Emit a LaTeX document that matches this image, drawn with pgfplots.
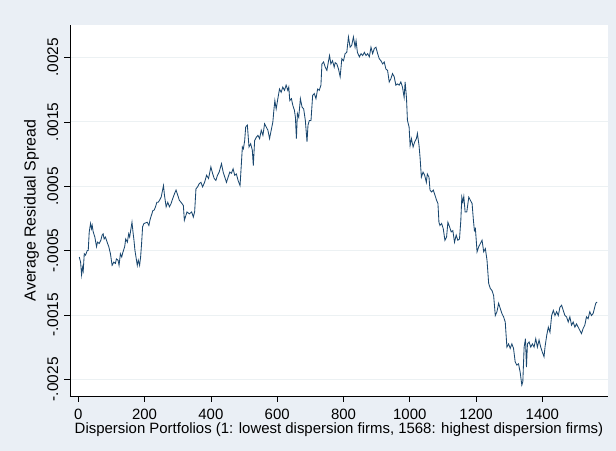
\documentclass[border=0pt]{standalone}
\usepackage{pgfplots}
\pgfplotsset{compat=1.18}
\usepackage{fontspec}
\setmainfont{Liberation Sans}
\definecolor{bgc}{RGB}{234,239,245}
\definecolor{gridc}{RGB}{236,241,243}
\definecolor{navy}{RGB}{26,71,111}
% y values in units of 1e-4
\pgfplotstableread{
x y
3 -6.0
7 -6.8
10 -8.8
13 -7.6
15 -8.1
18 -5.5
22 -5.7
27 -5.0
30 -5.0
33 -2.1
37 -0.8
40 -1.6
42 -1.1
45 -2.1
50 -2.9
55 -4.4
58 -3.7
63 -3.9
68 -3.4
72 -2.6
75 -2.4
78 -3.2
82 -2.9
87 -3.7
92 -4.4
97 -5.5
102 -7.3
107 -6.8
112 -7.0
115 -6.3
120 -6.5
123 -7.3
127 -5.5
131 -6.0
135 -5.2
140 -4.4
143 -3.2
148 -3.7
152 -2.4
155 -2.9
158 -1.9
162 -0.6
165 -2.1
168 -3.4
171 -5.0
175 -6.3
178 -7.3
181 -6.5
185 -7.3
188 -6.0
191 -3.9
194 -1.3
198 -0.8
203 -0.7
208 -0.6
213 -1.1
217 -0.1
222 0.7
225 1.2
229 1.3
233 1.8
237 2.5
241 2.5
245 2.8
250 3.3
257 5.1
260 3.6
265 1.8
270 2.5
275 1.8
280 2.3
283 2.8
290 3.8
295 4.4
300 3.6
305 2.8
310 2.5
317 2.0
320 -0.3
323 0.2
328 1.0
335 0.7
342 1.0
347 0.2
351 1.0
355 4.6
360 4.9
365 5.4
370 5.6
375 4.9
381 5.6
387 6.7
393 6.2
400 8.0
405 7.0
410 6.2
415 5.9
420 6.7
425 7.2
432 8.5
437 7.2
442 6.4
447 5.6
452 6.4
457 7.2
462 7.0
467 7.7
472 6.7
477 6.9
482 5.9
488 5.1
492 8.5
495 11.1
498 10.8
502 12.1
505 14.2
510 14.5
515 11.1
520 11.6
525 10.6
528 8.2
532 12.1
537 12.6
542 12.9
547 12.4
552 13.7
557 12.9
562 14.7
567 14.2
572 13.7
577 12.4
582 13.7
587 15.0
590 16.8
593 18.3
597 17.0
602 18.6
607 20.1
612 19.6
617 20.4
622 19.9
627 20.7
632 19.9
635 20.4
638 18.3
643 18.6
647 17.6
652 16.8
655 15.7
658 12.4
661 16.3
665 15.7
670 18.6
675 17.3
680 17.0
685 15.2
690 11.9
693 14.5
697 15.2
702 15.2
707 19.1
712 19.4
717 18.6
722 20.1
727 19.9
732 20.7
735 24.0
740 24.3
745 23.5
750 23.0
755 24.5
758 25.3
762 24.0
767 24.5
772 23.5
775 24.2
780 24.0
785 23.2
790 22.0
795 24.8
800 24.5
805 25.6
810 25.8
815 28.2
820 26.6
825 26.9
830 28.2
835 26.6
838 27.6
842 25.8
848 25.1
853 25.6
858 25.3
863 25.8
868 25.3
873 25.6
878 25.1
883 26.6
888 25.6
893 26.4
898 26.6
903 25.6
908 24.8
913 24.5
918 24.0
923 24.3
928 23.2
933 23.0
938 21.2
943 21.7
948 22.5
953 22.0
958 20.7
963 20.9
968 20.7
973 21.2
978 20.4
983 18.8
986 21.2
990 18.8
993 15.2
998 14.2
1001 11.3
1005 12.4
1010 11.1
1015 11.9
1020 12.4
1023 13.2
1028 11.3
1031 9.5
1035 6.4
1040 7.2
1045 6.7
1050 5.6
1053 6.9
1058 6.4
1061 4.4
1066 4.1
1071 4.4
1076 3.6
1081 2.8
1085 2.3
1088 -0.6
1091 -1.1
1096 -0.8
1101 -1.6
1106 -3.4
1111 -2.9
1115 -0.6
1120 -1.3
1125 -2.1
1130 -1.9
1135 -3.7
1140 -2.6
1145 -3.4
1150 -3.2
1154 -0.3
1157 3.3
1160 2.5
1163 3.4
1167 1.0
1172 1.0
1178 3.3
1183 2.8
1188 2.3
1192 -0.3
1195 -1.9
1198 -1.6
1203 -5.2
1208 -4.4
1213 -3.9
1218 -3.4
1223 -5.2
1228 -4.7
1233 -6.5
1238 -10.1
1243 -10.9
1248 -11.2
1253 -12.0
1258 -15.1
1263 -14.5
1268 -13.2
1273 -14.0
1278 -14.8
1283 -15.3
1288 -16.1
1293 -20.0
1298 -19.5
1303 -20.2
1308 -19.5
1313 -20.2
1318 -22.3
1323 -22.8
1328 -22.6
1333 -23.9
1338 -25.9
1341 -25.4
1345 -20.0
1349 -18.7
1352 -23.1
1355 -19.5
1360 -19.2
1365 -20.0
1370 -19.5
1375 -20.0
1380 -18.7
1385 -20.0
1390 -18.9
1395 -20.0
1400 -20.8
1405 -21.5
1408 -20.0
1413 -18.2
1418 -16.9
1423 -17.7
1428 -15.1
1433 -14.3
1438 -15.1
1443 -14.5
1448 -15.1
1453 -13.8
1458 -13.5
1463 -14.3
1468 -15.1
1473 -15.3
1478 -16.1
1483 -15.3
1488 -16.6
1493 -16.1
1498 -16.9
1503 -16.4
1508 -16.9
1513 -17.4
1518 -17.9
1523 -17.1
1528 -16.6
1533 -15.3
1538 -15.6
1543 -14.5
1548 -15.1
1553 -14.8
1558 -13.8
1561 -13.2
1565 -13.0
}\spread
\begin{document}
\begin{tikzpicture}
\fill[bgc] (-70bp,-55bp) rectangle (546bp,396bp);
\begin{axis}[
  at={(0,0)}, anchor=south west,
  width=538bp, height=371bp, scale only axis,
  xmin=-25, xmax=1598, ymin=-27.6, ymax=30.05,
  axis x line*=bottom, axis y line*=left,
  axis line style={black, line width=0.8pt, -},
  axis background/.style={fill=white},
  xtick={0,200,...,1400},
  ytick={-25,-15,-5,5,15,25},
  yticklabels={-.0025,-.0015,-.0005,.0005,.0015,.0025},
  /pgf/number format/assume math mode=true,
  /pgf/number format/set thousands separator={},
  tick align=outside, major tick length=5.5bp,
  tick style={black, line width=0.6pt},
  ymajorgrids, major grid style={gridc, line width=0.8pt},
  xticklabel style={font=\fontsize{15}{18}\selectfont, anchor=north, inner sep=0pt, yshift=-7bp},
  yticklabel style={font=\fontsize{15.5}{19}\selectfont, rotate=90, anchor=south, inner sep=0pt, yshift=6bp},
  xlabel={Dispersion Portfolios (1: lowest dispersion firms, 1568: highest dispersion firms)},
  ylabel={Average Residual Spread},
  xlabel style={font=\fontsize{15}{18}\selectfont, at={(axis description cs:0.5,-0.0903)}, anchor=center, inner sep=0pt},
  ylabel style={font=\fontsize{16}{19}\selectfont, at={(axis description cs:-0.0715,0.5)}, anchor=center, inner sep=0pt},
  clip=true,
]
\addplot[navy, line width=0.85pt, mark=none] table[x=x, y=y] {\spread};
\end{axis}
\end{tikzpicture}
\end{document}
